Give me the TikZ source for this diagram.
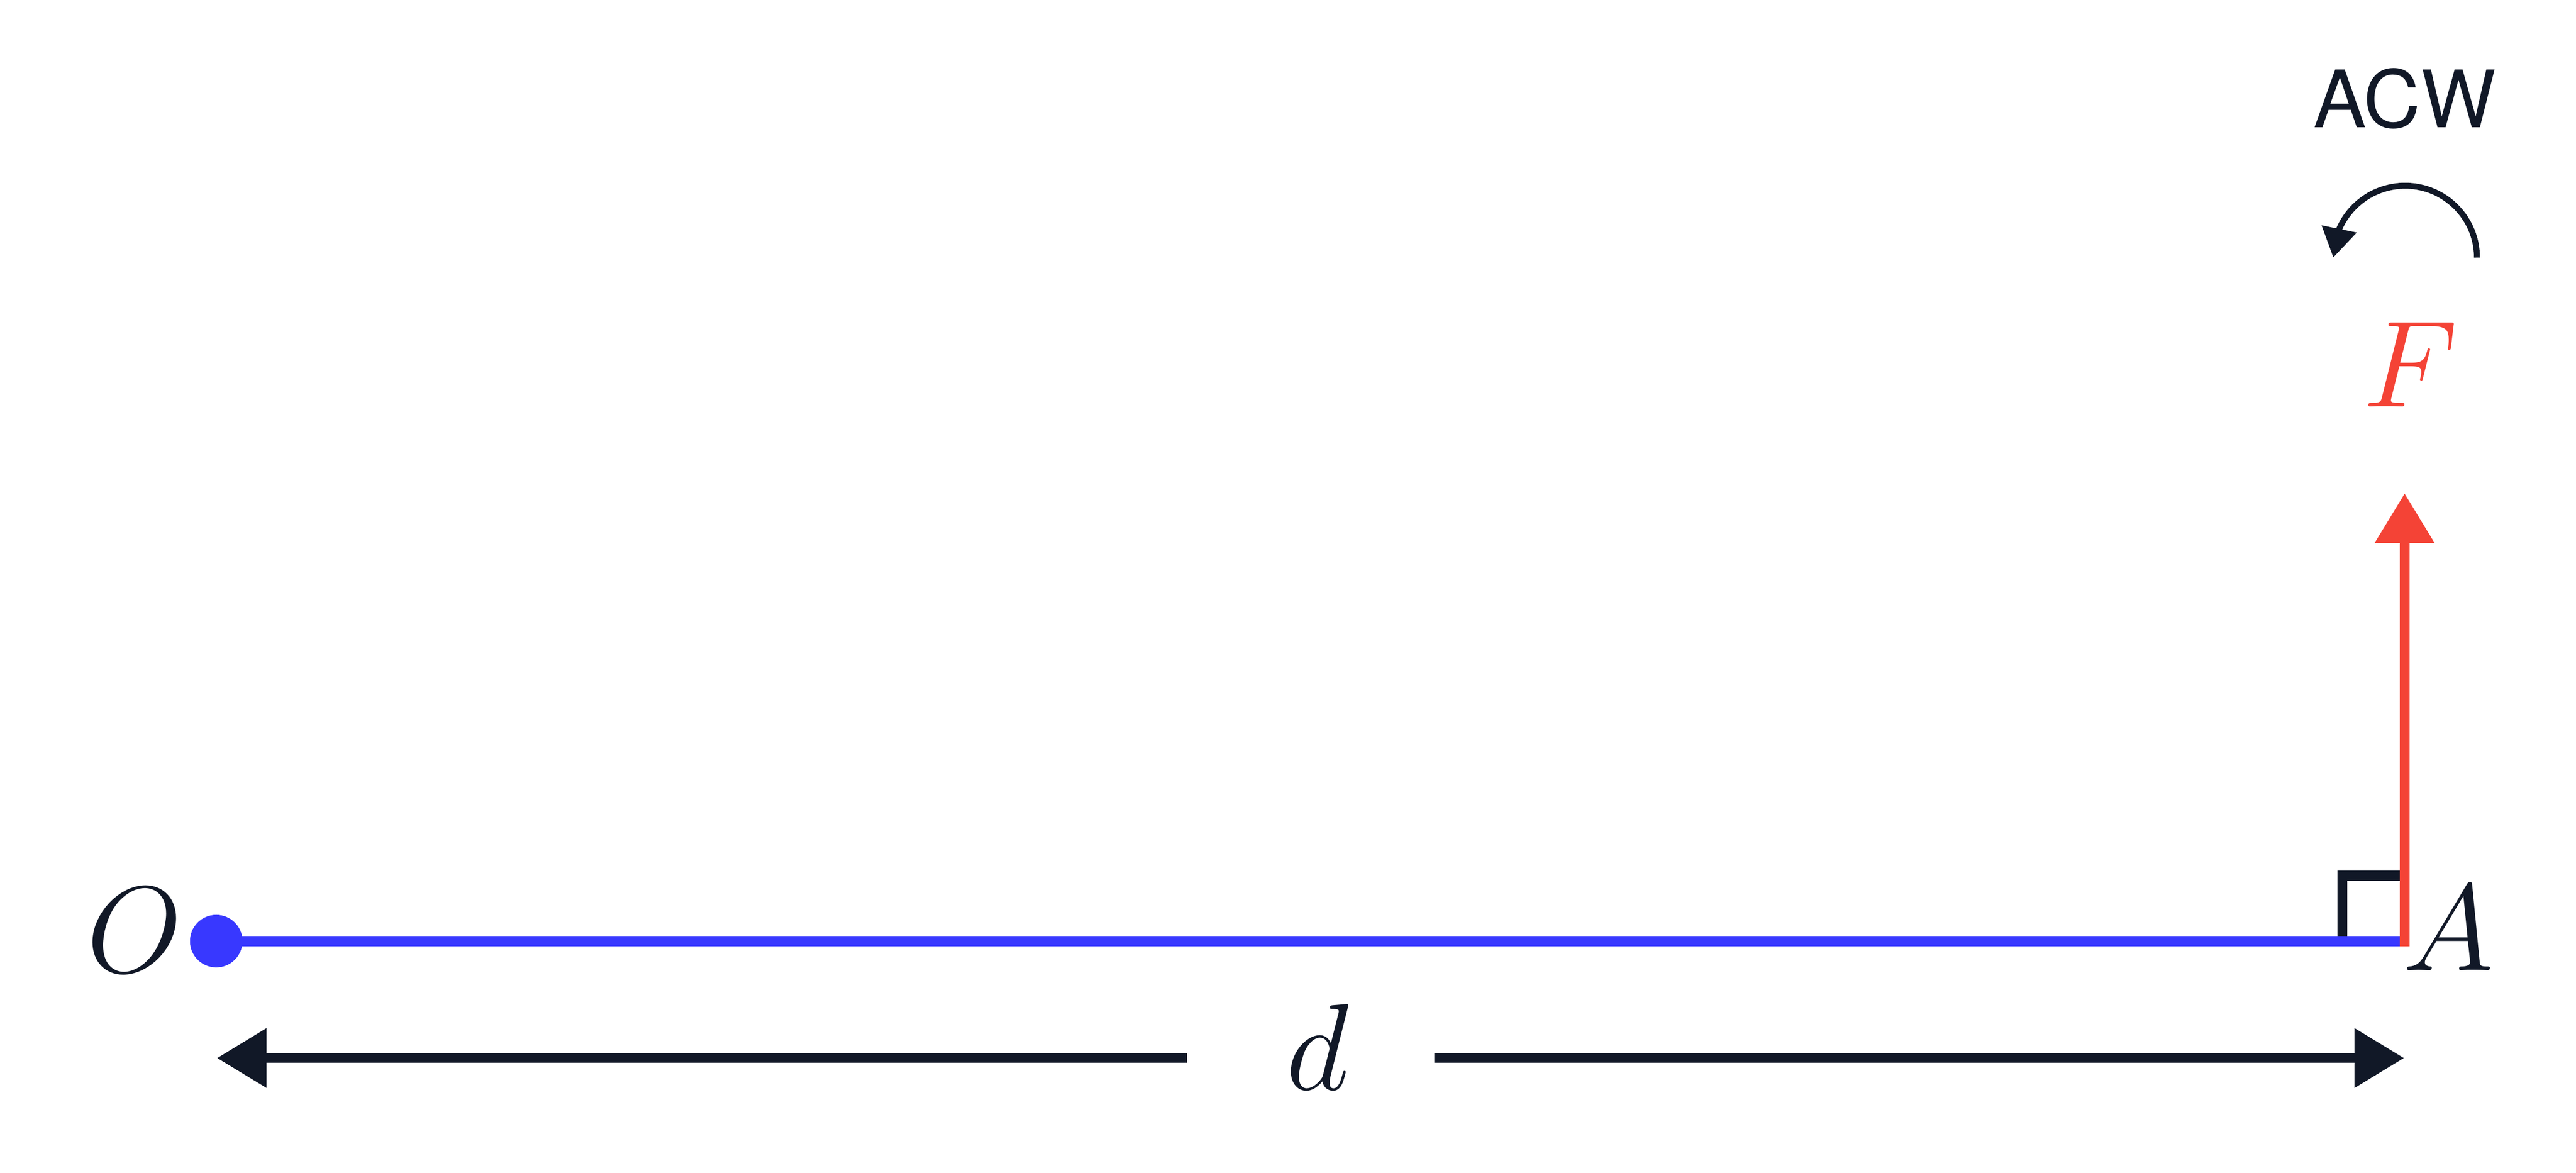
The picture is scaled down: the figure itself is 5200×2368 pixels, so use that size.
\documentclass[tikz,border=0pt]{standalone}
\usepackage{fontspec}
\setsansfont{TeX Gyre Heros}
\usetikzlibrary{arrows.meta,bending}
\definecolor{ink}{HTML}{111827}
\definecolor{fred}{HTML}{F44336}
\definecolor{rblue}{HTML}{3838FF}
\tikzset{
  lbl/.style={inner sep=0pt, font=\fontsize{24.5}{28}\selectfont},
  arm/.style={line width=2pt, draw=rblue},
  force/.style={line width=2pt, draw=fred, -{Triangle[length=10pt,width=11.5pt]}},
  dimline/.style={line width=2pt, draw=ink, -{Triangle[length=10pt,width=11.5pt]}},
  rmark/.style={line width=2pt, draw=ink, line join=miter},
  turn/.style={line width=1.2pt, draw=ink, -{Triangle[length=5.9pt,width=6.9pt,flex]}},
  pivot/.style={circle, fill=rblue, inner sep=0pt, minimum size=10.6pt},
}
\begin{document}
\begin{tikzpicture}[x=0.1pt,y=0.1pt]
\fill[white] (0,0) rectangle (5200,2368);
\useasboundingbox (0,0) rectangle (5200,2368);
\coordinate (O) at (436.5,468);
\coordinate (A) at (4854,468);
\coordinate (Fbase) at (4854,458);
\coordinate (Ftip) at (4854,1372);
\coordinate (rmB) at (4728,468);
\coordinate (rmC) at (4728,600);
\coordinate (rmR) at (4854,600);
\draw[rmark] (rmB) -- (rmC) -- (rmR);
\draw[arm] (O) -- (A);
\draw[force] (Fbase) -- (Ftip);
\node[pivot] (Odot) at (O) {};
\node[lbl, text=ink] (Olbl) at (272,490) {$O$};
\node[lbl, text=ink] (Albl) at (4942,494) {$A$};
\node[lbl, text=fred] (Flbl) at (4866,1632) {$F$};
\node[font=\sffamily\fontsize{16}{19}\selectfont, text=ink, inner sep=0pt] (acw) at (4854,2169) {ACW};
\coordinate (arcR) at (5000,1848);
\draw[turn] (arcR) arc[start angle=0,end angle=180,radius=145];
\coordinate (dimL) at (438,232);
\coordinate (dimR) at (4853,232);
\coordinate (gapL) at (2396,232);
\coordinate (gapR) at (2895,232);
\draw[dimline] (gapL) -- (dimL);
\draw[dimline] (gapR) -- (dimR);
\node[lbl, text=ink] (dlbl) at (2660,254) {$d$};
\end{tikzpicture}
\end{document}
